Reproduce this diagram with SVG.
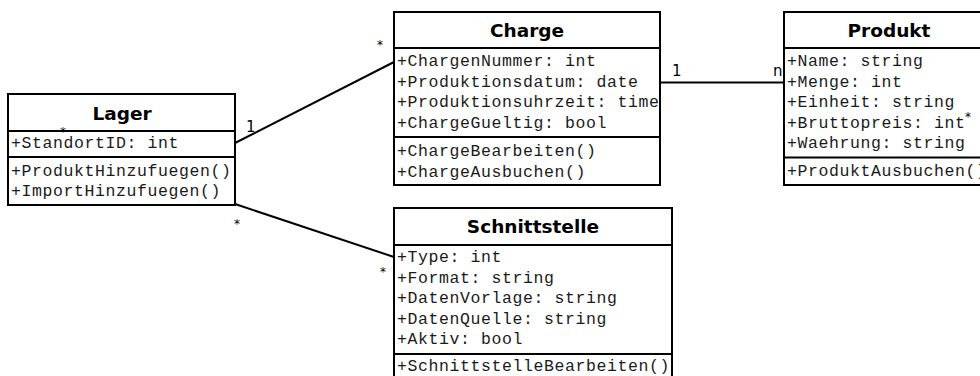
<svg xmlns="http://www.w3.org/2000/svg" width="980" height="376" viewBox="0 0 980 376">
<style>
.box{fill:#fff;stroke:#000;stroke-width:2}
.div{stroke:#000;stroke-width:2}
.title{font-family:"DejaVu Sans",Verdana,sans-serif;font-weight:bold;font-size:18.5px;text-anchor:middle;fill:#000}
.m{font-family:"Liberation Mono","Courier New",monospace;font-size:16.5px;letter-spacing:0.6px;fill:#1a1a1a}
.lab{font-family:"DejaVu Sans",sans-serif;font-size:15px;fill:#000}
.ast{font-family:"DejaVu Sans",sans-serif;font-size:12px;fill:#000;text-anchor:middle}
.con{stroke:#000;stroke-width:2;fill:none}
</style>
<rect width="980" height="376" fill="#fff"/>
<g id="connectors">
<line class="con" x1="235" y1="143" x2="394" y2="62"/>
<line class="con" x1="235" y1="204" x2="394" y2="257"/>
<line class="con" x1="660" y1="82.5" x2="784" y2="82.5"/>
<text class="lab" x="246" y="132">1</text>
<text class="ast" x="380" y="49">*</text>
<text class="ast" x="237" y="228">*</text>
<text class="ast" x="383" y="276">*</text>
<text class="lab" x="672" y="76">1</text>
<text class="lab" x="773" y="76">n</text>
</g>
<g id="lager">
<rect class="box" x="8" y="94" width="227" height="111"/>
<line class="div" x1="8" y1="131" x2="235" y2="131"/>
<line class="div" x1="8" y1="157" x2="235" y2="157"/>
<text class="title" x="122" y="120">Lager</text>
<text class="m" x="11" y="148">+StandortID: int</text>
<text class="m" x="11" y="176">+ProduktHinzufuegen()</text>
<text class="m" x="11" y="195.5">+ImportHinzufuegen()</text>
<text class="ast" x="63" y="136">*</text>
</g>
<g id="charge">
<rect class="box" x="394" y="12" width="266" height="173"/>
<line class="div" x1="394" y1="48" x2="660" y2="48"/>
<line class="div" x1="394" y1="137" x2="660" y2="137"/>
<text class="title" x="527" y="37">Charge</text>
<text class="m" x="397" y="66">+ChargenNummer: int</text>
<text class="m" x="397" y="86.5">+Produktionsdatum: date</text>
<text class="m" x="397" y="107">+Produktionsuhrzeit: time</text>
<text class="m" x="397" y="127.5">+ChargeGueltig: bool</text>
<text class="m" x="397" y="156">+ChargeBearbeiten()</text>
<text class="m" x="397" y="176.5">+ChargeAusbuchen()</text>
</g>
<g id="produkt">
<rect class="box" x="784" y="12" width="212" height="173"/>
<line class="div" x1="784" y1="48" x2="996" y2="48"/>
<line class="div" x1="784" y1="157.5" x2="996" y2="157.5"/>
<text class="title" x="889" y="37">Produkt</text>
<text class="m" x="787" y="66">+Name: string</text>
<text class="m" x="787" y="86.5">+Menge: int</text>
<text class="m" x="787" y="107">+Einheit: string</text>
<text class="m" x="787" y="127.5">+Bruttopreis: int</text>
<text class="m" x="787" y="148">+Waehrung: string</text>
<text class="m" x="787" y="176">+ProduktAusbuchen()</text>
<text class="ast" x="968" y="121">*</text>
</g>
<g id="schnittstelle">
<rect class="box" x="394" y="208" width="278" height="176"/>
<line class="div" x1="394" y1="245" x2="672" y2="245"/>
<line class="div" x1="394" y1="354" x2="672" y2="354"/>
<text class="title" x="533" y="233">Schnittstelle</text>
<text class="m" x="397" y="262">+Type: int</text>
<text class="m" x="397" y="282.5">+Format: string</text>
<text class="m" x="397" y="303">+DatenVorlage: string</text>
<text class="m" x="397" y="323.5">+DatenQuelle: string</text>
<text class="m" x="397" y="344">+Aktiv: bool</text>
<text class="m" x="397" y="371">+SchnittstelleBearbeiten()</text>
</g>
</svg>
